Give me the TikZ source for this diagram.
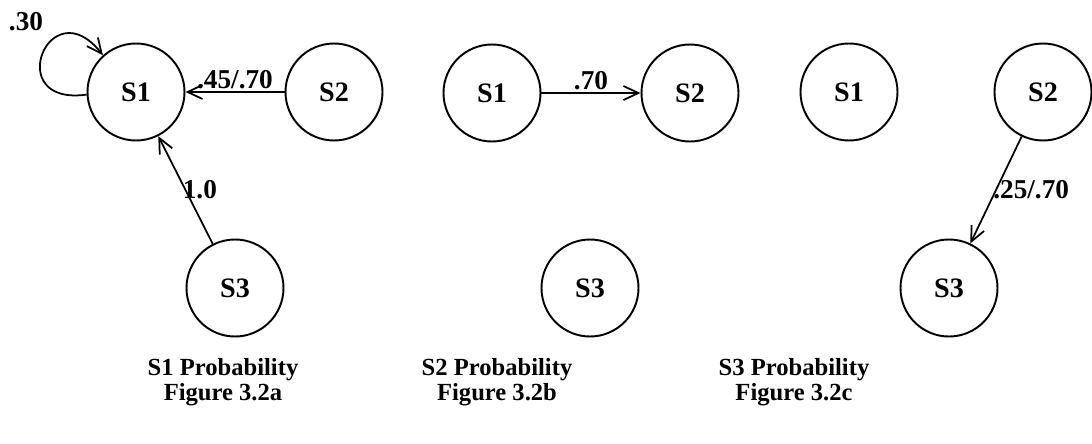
\documentclass[tikz,border=0pt]{standalone}
\usepackage{fontspec}
\setmainfont{Liberation Serif}
\usetikzlibrary{arrows.meta}

\tikzset{
	state/.style={circle, draw, line width=1.1pt, minimum size=1.94cm, inner sep=0pt, font=\bfseries\fontsize{16}{18}\selectfont},
	trans/.style={line width=1pt, -{Straight Barb[length=3mm, width=2.8mm, line width=1pt]}},
	prob/.style={font=\bfseries\fontsize{15.5}{17}\selectfont, inner sep=1pt},
	caption/.style={font=\bfseries\fontsize{14}{14.5}\selectfont, align=center}
}

\begin{document}
\begin{tikzpicture}[x=0.2mm, y=0.2mm]
	\useasboundingbox (0,0) rectangle (1092,443);
	
	% S1 Wahrscheinlichkeit
	\node [state] (s1a) at (136, 351) {S1};
	\node [state] (s2a) at (334, 351) {S2};
	\node [state] (s3a) at (235, 155) {S3};
	\draw [trans] (s1a.183) to[out=188, in=128, looseness=5.2] (s1a.132);	% Schleife
	\node [prob] (p30) at (26, 421) {.30};
	\draw [trans] (s2a) -- node [prob, above] (p4570) {.45/.70} (s1a);
	\draw [trans] (s3a) -- node [prob, right, xshift=-3pt] (p10) {1.0} (s1a);
	
	% S2 Wahrscheinlichkeit
	\node [state] (s1b) at (492, 350) {S1};
	\node [state] (s2b) at (690, 350) {S2};
	\node [state] (s3b) at (590, 155) {S3};
	\draw [trans] (s1b) -- node [prob, above] (p70) {.70} (s2b);
	
	% S3 Wahrscheinlichkeit
	\node [state] (s1c) at (849, 351) {S1};
	\node [state] (s2c) at (1043, 351) {S2};
	\node [state] (s3c) at (949, 155) {S3};
	\draw [trans] (s2c) -- node [prob, right, xshift=-3pt] (p2570) {.25/.70} (s3c);
	
	% Unterschriften
	\node [caption] (capa) at (223, 61) {S1 Probability\\Figure 3.2a};
	\node [caption] (capb) at (497, 61) {S2 Probability\\Figure 3.2b};
	\node [caption] (capc) at (794, 61) {S3 Probability\\Figure 3.2c};
\end{tikzpicture}
\end{document}
